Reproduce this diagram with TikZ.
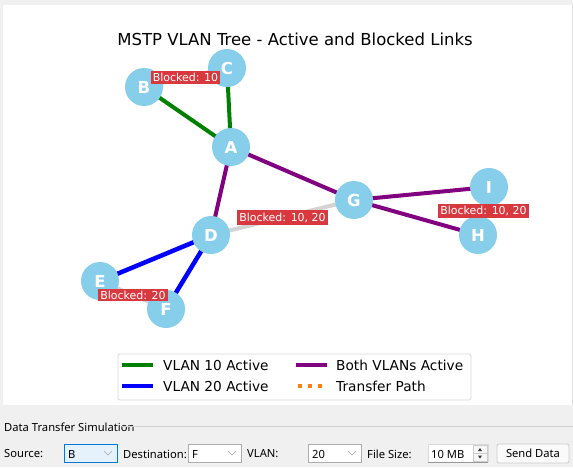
\documentclass[tikz,border=0pt]{standalone}
\usepackage{fontspec}
\usetikzlibrary{calc}
\setmainfont{DejaVu Sans}
\newfontfamily\uifont{Noto Sans}
\definecolor{winbg}{HTML}{F0F0F0}
\definecolor{skyb}{HTML}{87CEEB}
\definecolor{mgreen}{HTML}{008000}
\definecolor{mpurple}{HTML}{800080}
\definecolor{mblue}{HTML}{0000FF}
\definecolor{mgray}{HTML}{D3D3D3}
\definecolor{mred}{HTML}{D8393F}
\definecolor{morange}{HTML}{FF7F0E}
\definecolor{focusbg}{HTML}{E5F1FB}
\definecolor{focusbd}{HTML}{0078D7}
\definecolor{combobd}{HTML}{ADADAD}
\tikzset{
  sw/.style={circle,fill=skyb,minimum size=38pt,inner sep=0pt,text=white,font=\fontsize{16.5}{16.5}\selectfont\bfseries},
  edgeline/.style={line width=4pt},
  blk/.style={fill=mred,text=white,inner sep=2.2pt,font=\fontsize{11}{11.5}\selectfont},
  legtext/.style={anchor=west,inner sep=0pt,font=\fontsize{13.7}{14}\selectfont},
  ui/.style={anchor=west,inner sep=0pt,font=\uifont\fontsize{11.2}{12}\selectfont},
  combo/.style={draw=combobd,fill=white,line width=0.8pt},
}
\begin{document}
\begin{tikzpicture}[x=1pt,y=-1pt]
\useasboundingbox (0,0) rectangle (573,467);
\fill[winbg] (0,0) rectangle (573,467);
\fill[white] (3,5) rectangle (572,405);
\draw[gray!25,line width=0.6pt] (572,5) -- (572,405);
% title
\node[font=\fontsize{16.5}{17}\selectfont] (title) at (295,39) {MSTP VLAN Tree - Active and Blocked Links};
% switches positions
\coordinate (pA) at (231,147);
\coordinate (pB) at (144,87);
\coordinate (pC) at (227,68);
\coordinate (pD) at (211,235);
\coordinate (pE) at (100,281);
\coordinate (pF) at (166,309);
\coordinate (pG) at (354,200);
\coordinate (pH) at (478,235);
\coordinate (pI) at (489,187);
% edges
\draw[edgeline,mgray] (pB) -- (pC);
\draw[edgeline,mgray] (pI) -- (pH);
\draw[edgeline,mgray] (pE) -- (pF);
\draw[edgeline,mgray] (pD) -- (pG);
\draw[edgeline,mgreen] (pB) -- (pA);
\draw[edgeline,mgreen] (pC) -- (pA);
\draw[edgeline,mpurple] (pA) -- (pG);
\draw[edgeline,mpurple] (pA) -- (pD);
\draw[edgeline,mpurple] (pG) -- (pI);
\draw[edgeline,mpurple] (pG) -- (pH);
\draw[edgeline,mblue,line width=4.5pt] (pD) -- (pE);
\draw[edgeline,mblue,line width=4.5pt] (pD) -- (pF);
% nodes
\node[sw] (A) at (pA) {A};
\node[sw] (B) at (pB) {B};
\node[sw] (C) at (pC) {C};
\node[sw] (D) at (pD) {D};
\node[sw] (E) at (pE) {E};
\node[sw] (F) at (pF) {F};
\node[sw] (G) at (pG) {G};
\node[sw] (H) at (pH) {H};
\node[sw] (I) at (pI) {I};
% blocked labels
\node[blk] (bBC) at ($(pB)!0.5!(pC)$) {Blocked: 10};
\node[blk] (bDG) at ($(pD)!0.5!(pG)$) {Blocked: 10, 20};
\node[blk] (bIH) at ($(pI)!0.5!(pH)$) {Blocked: 10, 20};
\node[blk] (bEF) at ($(pE)!0.5!(pF)$) {Blocked: 20};
% legend
\draw[gray!30,fill=white,rounded corners=2pt,line width=0.8pt] (118,354) rectangle (471,400);
\coordinate (l1a) at (122,365); \coordinate (l1b) at (153,365);
\coordinate (l2a) at (122,386); \coordinate (l2b) at (153,386);
\coordinate (l3a) at (296,365); \coordinate (l3b) at (327,365);
\coordinate (l4a) at (298,386); \coordinate (l4b) at (327,386);
\draw[line width=4pt,mgreen] (l1a) -- (l1b);
\draw[line width=4pt,mblue] (l2a) -- (l2b);
\draw[line width=4pt,mpurple] (l3a) -- (l3b);
\draw[line width=4pt,morange,dash pattern=on 4pt off 6pt] (l4a) -- (l4b);
\node[legtext] (t1) at (163,365) {VLAN 10 Active};
\node[legtext] (t2) at (163,386) {VLAN 20 Active};
\node[legtext] (t3) at (336,365) {Both VLANs Active};
\node[legtext] (t4) at (336,386) {Transfer Path};
% group box
\node[ui] (grp) at (4,427) {Data Transfer Simulation};
\draw[gray!35,line width=0.6pt] (122,426) -- (573,426);
% controls row
\node[ui] (lsrc) at (4,454) {Source:};
\draw[fill=focusbg,draw=focusbd,line width=0.8pt] (64,444) rectangle (117,462);
\node[ui] (csrc) at (68,454) {B};
\draw[gray!70,line width=0.6pt] (104,451) -- (108,455) -- (112,451);
\node[ui] (ldst) at (123,454) {Destination:};
\draw[combo] (188,444) rectangle (241,462);
\node[ui] (cdst) at (192,454) {F};
\draw[gray!70,line width=0.6pt] (228,451) -- (232,455) -- (236,451);
\node[ui] (lvl) at (247,454) {VLAN:};
\draw[combo] (308,444) rectangle (361,462);
\node[ui] (cvl) at (312,454) {20};
\draw[gray!70,line width=0.6pt] (348,451) -- (352,455) -- (356,451);
\node[ui] (lfs) at (367,454) {File Size:};
\fill[white] (428,444) rectangle (488,462);
\draw[gray!30,line width=0.6pt] (428,462) -- (428,444) -- (488,444) -- (488,462);
\draw[gray!80,line width=0.8pt] (428,462) -- (488,462);
\node[ui] (cfs) at (431,454) {10 MB};
\draw[gray!40,fill=winbg!60,line width=0.5pt] (473,445) rectangle (487,453);
\draw[gray!40,fill=winbg!60,line width=0.5pt] (473,453) rectangle (487,461);
\fill[black!80] (478,451) -- (482,451) -- (480,448) -- cycle;
\fill[black!80] (478,455.5) -- (482,455.5) -- (480,458.5) -- cycle;
\draw[draw=gray!40,fill=white!98!black,rounded corners=2pt,line width=0.8pt] (497,444) rectangle (569,463);
\node[font=\uifont\fontsize{11.2}{12}\selectfont,inner sep=0pt] (btn) at (533,453.5) {Send Data};
\end{tikzpicture}
\end{document}
